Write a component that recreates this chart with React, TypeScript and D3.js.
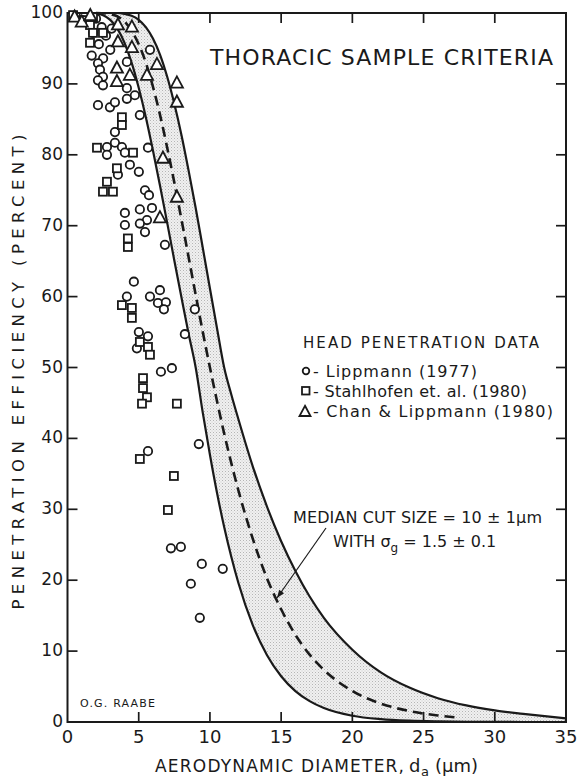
import React from 'react';
import * as d3 from 'd3';

const W = 578, H = 780;
const PLOT = { left: 67.5, right: 566, top: 13, bottom: 722 };

// diameter grid (um) for the band
const bandX = [2, 2.5, 3, 3.5, 4, 4.5, 5, 5.5, 6, 6.5, 7, 7.5, 8, 8.5, 9, 9.5, 10, 10.5, 11, 11.5, 12, 13, 14, 15, 16, 17, 18, 20, 22, 24, 26, 28, 30, 32, 35];
// left (lower) boundary curve, percent
const bandLow = [99.93, 99.68, 99.03, 97.8, 95.8, 93.0, 89.45, 85.3, 80.6, 75.6, 70.4, 65.1, 59.9, 54.8, 50, 43.6, 37.7, 32.3, 27.5, 23.3, 19.6, 13.7, 9.46, 6.45, 4.36, 2.94, 1.97, 0.88, 0.4, 0.18, 0.08, 0.03, 0.01, 0, 0];
// right (upper) boundary curve, percent
const bandHigh = [100, 100, 100, 100, 99.87, 99.6, 99.04, 98.0, 96.4, 94.1, 91.0, 87.2, 82.8, 77.8, 72.5, 66.85, 61.15, 55.5, 50, 46.2, 42.7, 36.1, 30.4, 25.5, 21.3, 17.7, 14.7, 10.2, 7.0, 4.85, 3.36, 2.34, 1.64, 1.15, 0.5];

// median (dashed) curve
const medX = [2, 3, 4, 5, 5.5, 6, 6.5, 7, 7.5, 8, 8.5, 9, 9.5, 10, 11, 12, 13, 14, 15, 16, 17, 18, 20, 22, 24, 26, 27.5];
const medY = [100, 99.85, 98.8, 95.6, 93.0, 89.6, 85.6, 81.0, 76.1, 70.9, 65.6, 60.25, 55.0, 50, 40.7, 32.65, 25.9, 20.3, 15.9, 12.3, 9.5, 7.36, 4.37, 2.6, 1.54, 0.92, 0.6];

const lippmann: [number, number][] = [
  [0.6, 99.5], [1.0, 99.0], [1.5, 98.6], [2.0, 99.2], [2.4, 98.0], [1.8, 97.2], [2.7, 96.8], [3.1, 97.8], [2.2, 95.6], [3.0, 94.8], [1.7, 94.0], [2.5, 93.6],
  [5.79, 94.8], [4.17, 93.1], [2.14, 92.9], [2.28, 92.0], [2.49, 91.0], [2.14, 90.5], [2.49, 89.8], [4.17, 89.4], [4.73, 88.4], [4.17, 87.9], [2.14, 87.0], [2.98, 86.7], [3.33, 87.4], [5.08, 85.6], [3.33, 83.2], [2.77, 81.1], [3.33, 81.7], [3.82, 81.1], [4.03, 80.3], [2.77, 80.0], [5.65, 81.0], [4.38, 78.6], [5.01, 77.6], [3.54, 77.2], [5.44, 75.0], [5.72, 74.3], [5.08, 72.3], [5.93, 72.5], [4.03, 71.8], [5.58, 70.8], [4.03, 70.1], [5.08, 70.3], [5.44, 69.1], [6.84, 67.3],
  [4.66, 62.1], [4.17, 60.0], [5.79, 60.0], [6.49, 60.9], [6.35, 59.1], [6.91, 59.2], [6.77, 58.2], [8.94, 58.2], [8.24, 54.7], [5.01, 55.0], [5.65, 54.4], [4.87, 52.7], [6.56, 49.4], [7.33, 49.9], [5.65, 38.2], [9.22, 39.2],
  [7.26, 24.5], [7.96, 24.7], [9.43, 22.3], [10.9, 21.6], [8.66, 19.5], [9.29, 14.7],
];
const stahlhofen: [number, number][] = [
  [0.39, 99.7], [1.09, 99.0], [1.79, 99.4], [1.58, 98.3], [1.79, 97.2], [1.58, 95.8], [2.49, 97.2],
  [2.07, 81.0], [3.82, 85.3], [3.82, 84.2], [4.6, 80.3], [3.47, 78.1], [2.77, 76.2], [2.49, 74.8], [3.19, 74.8], [4.24, 67.0], [4.24, 68.2],
  [3.82, 58.8], [4.52, 58.4], [4.52, 57.0], [5.08, 53.6], [5.65, 52.9], [5.79, 51.8], [5.3, 48.5], [5.3, 47.1], [5.58, 45.8], [5.23, 44.9], [7.68, 44.9], [5.08, 37.1], [7.47, 34.7],
  [7.05, 29.9],
];
const chan: [number, number][] = [
  [0.5, 99.4], [1.0, 98.7], [1.6, 99.6], [3.54, 98.3], [4.52, 98.0], [3.54, 95.9], [4.52, 95.1], [6.28, 92.7], [3.47, 92.2], [4.38, 91.2], [5.58, 91.2], [3.47, 90.3], [7.68, 90.1], [7.68, 87.4], [6.7, 79.5], [7.68, 74.0], [6.49, 71.1],
];

const xTicks = [0, 5, 10, 15, 20, 25, 30, 35];
const yTicks = [0, 10, 20, 30, 40, 50, 60, 70, 80, 90, 100];

const FONT = "'DejaVu Sans', 'Liberation Sans', sans-serif";
const INK = '#1a1a1a';

const triPath = (s: number) => `M0,${-s * 0.62}L${s * 0.55},${s * 0.4}L${-s * 0.55},${s * 0.4}Z`;

export default function App() {
  const x = d3.scaleLinear().domain([0, 35]).range([PLOT.left, PLOT.right]);
  const y = d3.scaleLinear().domain([0, 100]).range([PLOT.bottom, PLOT.top]);

  const area = d3.area<number>()
    .x((_, i) => x(bandX[i]))
    .y0((_, i) => y(bandLow[i]))
    .y1((_, i) => y(bandHigh[i]))
    .curve(d3.curveMonotoneX);
  const lowLine = d3.line<number>().x((_, i) => x(bandX[i])).y((d) => y(d)).curve(d3.curveMonotoneX);
  const medLine = d3.line<number>().x((_, i) => x(medX[i])).y((d) => y(d)).curve(d3.curveMonotoneX);

  const tickLen = 10;
  const sw = 1.7;

  // arrow
  const ax1 = 326, ay1 = 528, ax2 = 277, ay2 = 598;
  const ang = Math.atan2(ay2 - ay1, ax2 - ax1);
  const ah = 8, aw = 3;
  const arrowHead = [
    [ax2, ay2],
    [ax2 - ah * Math.cos(ang) + aw * Math.sin(ang), ay2 - ah * Math.sin(ang) - aw * Math.cos(ang)],
    [ax2 - ah * Math.cos(ang) - aw * Math.sin(ang), ay2 - ah * Math.sin(ang) + aw * Math.cos(ang)],
  ].map((p) => p.join(',')).join(' ');

  return (
    <svg width={W} height={H} style={{ position: 'absolute', left: 0, top: 0, background: '#fff' }} fontFamily={FONT}>
      <defs>
        <pattern id="stipple" width="3" height="3" patternUnits="userSpaceOnUse">
          <rect width="3" height="3" fill="#f0f0f0" />
          <rect x="0" y="0" width="1" height="1" fill="#b5b5b5" />
          <rect x="1.5" y="1.5" width="1" height="1" fill="#cfcfcf" />
        </pattern>
      </defs>
      <rect width={W} height={H} fill="#fff" />

      {/* band */}
      <path d={area(bandX) || ''} fill="url(#stipple)" stroke="none" />
      <path d={lowLine(bandLow) || ''} fill="none" stroke={INK} strokeWidth={2.2} />
      <path d={lowLine(bandHigh) || ''} fill="none" stroke={INK} strokeWidth={2.2} />
      <path d={medLine(medY) || ''} fill="none" stroke={INK} strokeWidth={2.6} strokeDasharray="10,6" />

      {/* frame */}
      <rect x={PLOT.left} y={PLOT.top} width={PLOT.right - PLOT.left} height={PLOT.bottom - PLOT.top} fill="none" stroke={INK} strokeWidth={2} />

      {/* ticks */}
      {xTicks.filter((t) => t > 0 && t < 35).map((t) => (
        <g key={'xt' + t} stroke={INK} strokeWidth={sw}>
          <line x1={x(t)} x2={x(t)} y1={PLOT.bottom} y2={PLOT.bottom - tickLen} />
          <line x1={x(t)} x2={x(t)} y1={PLOT.top} y2={PLOT.top + tickLen} />
        </g>
      ))}
      {yTicks.filter((t) => t > 0 && t < 100).map((t) => (
        <g key={'yt' + t} stroke={INK} strokeWidth={sw}>
          <line x1={PLOT.left} x2={PLOT.left + tickLen} y1={y(t)} y2={y(t)} />
          <line x1={PLOT.right} x2={PLOT.right - tickLen} y1={y(t)} y2={y(t)} />
        </g>
      ))}

      {/* tick labels */}
      {xTicks.map((t) => (
        <text key={'xl' + t} x={x(t)} y={743} fontSize={18} textAnchor="middle" fill={INK}>{t}</text>
      ))}
      {yTicks.map((t) => (
        <text key={'yl' + t} x={63} y={y(t) + 5} fontSize={17} textAnchor="end" fill={INK}>{t}</text>
      ))}

      {/* axis titles */}
      <text x={155} y={772} fontSize={17} fill={INK} textLength={249} lengthAdjust="spacing">AERODYNAMIC DIAMETER,</text>
      <text x={409} y={772} fontSize={18} fill={INK}>d</text>
      <text x={421} y={776} fontSize={13} fill={INK}>a</text>
      <text x={435} y={772} fontSize={18} fill={INK} textLength={43} lengthAdjust="spacing">(μm)</text>
      <text transform="translate(24,372) rotate(-90)" fontSize={16.5} textAnchor="middle" fill={INK} textLength={475} lengthAdjust="spacing">PENETRATION EFFICIENCY (PERCENT)</text>

      {/* title */}
      <text x={210} y={65} fontSize={22} fill={INK} textLength={343} lengthAdjust="spacing">THORACIC SAMPLE CRITERIA</text>

      {/* data points */}
      {lippmann.map(([a, b], i) => (
        <circle key={'c' + i} cx={x(a)} cy={y(b)} r={4.2} fill="#fff" stroke={INK} strokeWidth={1.8} />
      ))}
      {stahlhofen.map(([a, b], i) => (
        <rect key={'s' + i} x={x(a) - 4} y={y(b) - 4} width={8} height={8} fill="#fff" stroke={INK} strokeWidth={1.8} />
      ))}
      {chan.map(([a, b], i) => (
        <path key={'t' + i} d={triPath(11)} transform={`translate(${x(a)},${y(b)})`} fill="#fff" stroke={INK} strokeWidth={1.8} />
      ))}

      {/* legend */}
      <text x={303} y={348} fontSize={15} fill={INK} textLength={236} lengthAdjust="spacing">HEAD PENETRATION DATA</text>
      <circle cx={306} cy={371} r={3.3} fill="#fff" stroke={INK} strokeWidth={1.8} />
      <text x={313} y={377} fontSize={16} fill={INK} textLength={164} lengthAdjust="spacing">- Lippmann (1977)</text>
      <rect x={302} y={387} width={7.5} height={7.5} fill="#fff" stroke={INK} strokeWidth={1.8} />
      <text x={313} y={397} fontSize={16} fill={INK} textLength={214} lengthAdjust="spacing">- Stahlhofen et. al. (1980)</text>
      <path d={triPath(10)} transform="translate(305,412)" fill="#fff" stroke={INK} strokeWidth={1.8} />
      <text x={313} y={417} fontSize={16} fill={INK} textLength={240} lengthAdjust="spacing">- Chan &amp; Lippmann (1980)</text>

      {/* annotation */}
      <text x={293} y={523} fontSize={16} fill={INK} textLength={249} lengthAdjust="spacing">MEDIAN CUT SIZE = 10 ± 1μm</text>
      <text x={333} y={547} fontSize={16} fill={INK}>
        <tspan>WITH σ</tspan>
        <tspan fontSize={12} dy={5}>g</tspan>
        <tspan dy={-5}> = 1.5 ± 0.1</tspan>
      </text>
      <line x1={ax1} y1={ay1} x2={ax2} y2={ay2} stroke={INK} strokeWidth={1.2} />
      <polygon points={arrowHead} fill={INK} />

      <text x={80} y={707} fontSize={11} fill={INK} textLength={75} lengthAdjust="spacing">O.G. RAABE</text>
    </svg>
  );
}
